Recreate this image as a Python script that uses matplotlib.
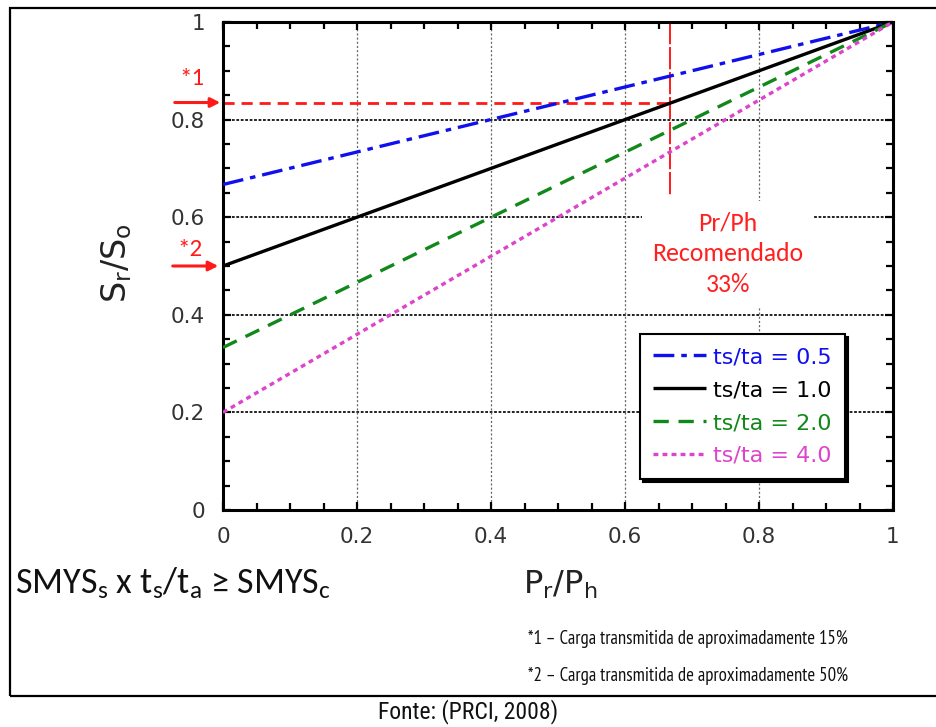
import matplotlib
matplotlib.use("Agg")
import matplotlib.pyplot as plt
from matplotlib.ticker import MultipleLocator
from matplotlib.patches import Rectangle

plt.rcParams['lines.scale_dashes'] = False

# ---- data ----
x_ends = [0.0, 1.0]
ratios = ["0.5", "1.0", "2.0", "4.0"]
y_start = [0.667, 0.5, 0.333, 0.2]
y_end = [1.0, 1.0, 1.0, 1.0]
labels = ["ts/ta = 0.5", "ts/ta = 1.0", "ts/ta = 2.0", "ts/ta = 4.0"]
colors = ["#1010ee", "#000000", "#11881a", "#dd44cc"]
styles = [(0, (15, 5, 4, 5)), "solid", (0, (11, 7)), (0, (3.5, 3))]

ref_x = 0.667     # Pr/Ph recommended
ref_y = 0.835     # corresponding Sr/So
ref_v_bottom = 0.641
mark2_y = 0.5

xticks = [0, 0.2, 0.4, 0.6, 0.8, 1]
yticks = [0, 0.2, 0.4, 0.6, 0.8, 1]
xtick_labels = ["0", "0.2", "0.4", "0.6", "0.8", "1"]
ytick_labels = ["0", "0.2", "0.4", "0.6", "0.8", "1"]

W, H = 936, 727
fig = plt.figure(figsize=(W / 100, H / 100), dpi=100)
ax = fig.add_axes([223 / W, 1 - 510 / H, 670 / W, 488 / H])

def fx(px):
    return px / W

def fy(py):
    return 1 - py / H

CAL = "Carlito"
COND = "PT Sans Narrow"
NARROW = "Roboto Condensed"

# grid
for v in yticks[1:-1]:
    ax.axhline(v, color="#111111", lw=1.3, ls=(0, (2, 1.2)), zorder=0.5)
for v in xticks[1:-1]:
    ax.axvline(v, color="#666666", lw=0.9, ls=(0, (1.5, 1.5)), zorder=0.5)

# reference red lines
ax.plot([0, ref_x], [ref_y, ref_y], color="#ff1a1a", lw=2.0, ls=(0, (8, 5)), zorder=1)
ax.plot([ref_x, ref_x], [1.0, ref_v_bottom], color="#ff1a1a", lw=1.4, ls=(0, (16, 2)), zorder=1)

# series
handles = []
for ys, ye, lab, c, st in zip(y_start, y_end, labels, colors, styles):
    h, = ax.plot(x_ends, [ys, ye], color=c, lw=2.4, ls=st, label=lab, zorder=3,
                 solid_capstyle="butt", dash_capstyle="butt")
    handles.append(h)

ax.set_xlim(0, 1)
ax.set_ylim(0, 1)
ax.set_xticks(xticks)
ax.set_xticklabels(xtick_labels)
ax.set_yticks(yticks)
ax.set_yticklabels(ytick_labels)
ax.xaxis.set_minor_locator(MultipleLocator(0.05))
ax.yaxis.set_minor_locator(MultipleLocator(0.05))
ax.tick_params(which="both", direction="in", top=True, right=True, width=1.6)
ax.tick_params(which="major", length=6)
ax.tick_params(which="minor", length=5)
ax.tick_params(axis="y", which="major", pad=13, labelsize=15.5, labelcolor="#333333")
ax.tick_params(axis="x", which="major", pad=12, labelsize=15.5, labelcolor="#333333")
for s in ax.spines.values():
    s.set_linewidth(2.2)

# axis labels
fig.text(fx(117), fy(263), r"$\mathregular{S_r/S_o}$", rotation=90, ha="center", va="center",
         fontsize=24, color="#222222")
fig.text(fx(560), fy(585), r"$\mathregular{P_r/P_h}$", ha="center", va="center",
         fontsize=23, color="#222222")

# legend
leg = ax.legend(handles=handles, loc="lower left", bbox_to_anchor=(0.622, 0.063),
                borderaxespad=0, fontsize=16, frameon=True, fancybox=False,
                edgecolor="black", handlelength=2.4, handletextpad=0.3,
                labelspacing=0.58, borderpad=0.6,
                shadow={"color": "black", "alpha": 1})
leg.get_frame().set_linewidth(1.5)
for t, c in zip(leg.get_texts(), colors):
    t.set_color(c)
leg.set_zorder(5)

# recommended text
ax.text(0.754, 0.525, "Pr/Ph\nRecomendado\n33%", ha="center", va="center",
        fontsize=18.5, color="#ff2020", family=CAL, linespacing=1.42, zorder=4,
        bbox=dict(boxstyle="square,pad=0.4", facecolor="white", edgecolor="none"))

# red markers *1 and *2
ax.annotate("", xy=(-0.004, ref_y), xytext=(-0.072, ref_y),
            xycoords=("axes fraction", "data"), textcoords=("axes fraction", "data"),
            arrowprops=dict(arrowstyle="-|>", color="#ff1a1a", lw=2.2, mutation_scale=14,
                            shrinkA=0, shrinkB=0), annotation_clip=False)
ax.annotate("", xy=(-0.007, mark2_y), xytext=(-0.075, mark2_y),
            xycoords=("axes fraction", "data"), textcoords=("axes fraction", "data"),
            arrowprops=dict(arrowstyle="-|>", color="#ff1a1a", lw=2.2, mutation_scale=14,
                            shrinkA=0, shrinkB=0), annotation_clip=False)
ax.text(-0.046, 0.885, "*1", transform=ax.get_yaxis_transform(), ha="center", va="center",
        fontsize=18, color="#ff1a1a", family=CAL)
ax.text(-0.049, 0.533, "*2", transform=ax.get_yaxis_transform(), ha="center", va="center",
        fontsize=18, color="#ff1a1a", family=CAL)

# bottom texts
fig.text(fx(15), fy(583), r"$\mathregular{SMYS_s}$ x $\mathregular{t_s/t_a}$ ≥ $\mathregular{SMYS_c}$",
         ha="left", va="center", fontsize=26, family=CAL, color="#111111")
fig.text(fx(528), fy(639), "*1 – Carga transmitida de aproximadamente 15%", ha="left", va="center",
         fontsize=13.5, family=[COND, CAL], color="#111111")
fig.text(fx(528), fy(676), "*2 – Carga transmitida de aproximadamente 50%", ha="left", va="center",
         fontsize=13.5, family=[COND, CAL], color="#111111")
fig.text(fx(468), fy(712), "Fonte: (PRCI, 2008)", ha="center", va="center",
         fontsize=17, family=NARROW, color="#111111")

# outer frame
fig.add_artist(Rectangle((fx(10), fy(696)), (960 - 10) / W, (696 - 8) / H,
                         transform=fig.transFigure, fill=False, lw=1.6, edgecolor="black",
                         clip_on=False))

fig.savefig("out.png", dpi=100)
